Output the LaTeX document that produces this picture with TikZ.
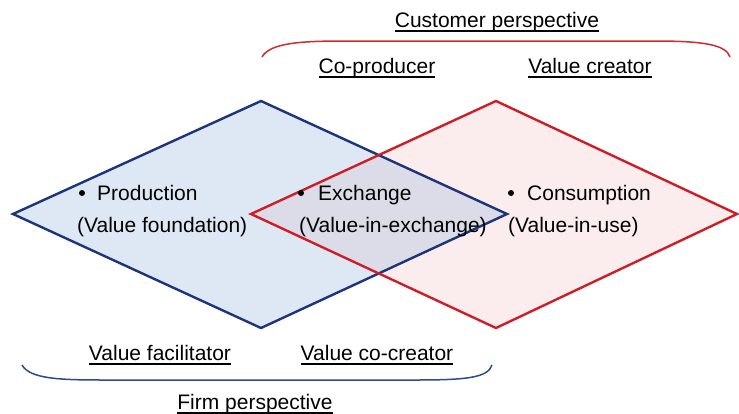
\documentclass[tikz,border=0pt]{standalone}
\usepackage{fontspec}
\setmainfont{Liberation Sans}
\definecolor{bedge}{RGB}{30,52,120}
\definecolor{redge}{RGB}{205,30,40}
\definecolor{bfill}{RGB}{222,232,244}
\definecolor{rfill}{RGB}{251,237,237}
\definecolor{ofill}{RGB}{220,220,232}
\definecolor{rbrace}{RGB}{205,45,45}
\definecolor{bbrace}{RGB}{45,75,135}
\newsavebox\ulbox
\newcommand\ulx[1]{\sbox\ulbox{#1}\rlap{\rule[-4.6pt]{\wd\ulbox}{1.4pt}}\usebox\ulbox}
\begin{document}
\begin{tikzpicture}[x=1pt,y=-1pt,
  txt/.style={inner sep=0pt,font=\fontsize{21}{24}\selectfont},
  bul/.style={circle,fill=black,minimum size=6pt,inner sep=0pt},
  dedge/.style={line width=2.4pt,line join=miter}]
\useasboundingbox (0,0) rectangle (739,413);
% diamond vertices
\coordinate (bl) at (13,214);
\coordinate (bt) at (261,101);
\coordinate (br) at (507,214);
\coordinate (bb) at (261,328);
\coordinate (rl) at (251,214);
\coordinate (rt) at (496,101);
\coordinate (rr) at (737,214);
\coordinate (rb) at (496,328);
% fills
\fill[bfill] (bl) -- (bt) -- (br) -- (bb) -- cycle;
\fill[rfill] (rl) -- (rt) -- (rr) -- (rb) -- cycle;
\begin{scope}
  \clip (bl) -- (bt) -- (br) -- (bb) -- cycle;
  \fill[ofill] (rl) -- (rt) -- (rr) -- (rb) -- cycle;
\end{scope}
% outlines
\draw[dedge,bedge] (bl) -- (bt) -- (br) -- (bb) -- cycle;
\draw[dedge,redge] (rl) -- (rt) -- (rr) -- (rb) -- cycle;
% braces
\coordinate (cA) at (262,57);
\coordinate (cB) at (730,57);
\draw[rbrace,line width=1.5pt] (cA) .. controls (270,43) and (300,41) .. (345,41) -- (655,41) .. controls (705,41) and (726,45) .. (cB);
\coordinate (fA) at (22,365);
\coordinate (fB) at (492,365);
\draw[bbrace,line width=1.5pt] (fA) .. controls (30,379) and (60,380) .. (105,380) -- (415,380) .. controls (465,380) and (488,378) .. (fB);
% top labels
\node[txt,anchor=base] (cust) at (497,27) {\ulx{Customer perspective}};
\node[txt,anchor=base] (coprod) at (377,73) {\ulx{Co-producer}};
\node[txt,anchor=base] (vcreat) at (590,73) {\ulx{Value creator}};
% bottom labels
\node[txt,anchor=base] (vfac) at (160,360) {\ulx{Value facilitator}};
\node[txt,anchor=base] (vcoc) at (377,360) {\ulx{Value co-creator}};
\node[txt,anchor=base] (firm) at (255,409) {\ulx{Firm perspective}};
% diamond texts
\node[bul] (b1) at (82,193) {};
\node[txt,anchor=base west] (prod) at (97,200) {Production};
\node[txt,anchor=base west] (prodv) at (77,232) {(Value foundation)};
\node[bul] (b2) at (301,193) {};
\node[txt,anchor=base west] (exch) at (318,200) {Exchange};
\node[txt,anchor=base west] (exchv) at (299,232) {(Value-in-exchange)};
\node[bul] (b3) at (511,193) {};
\node[txt,anchor=base west] (cons) at (527,200) {Consumption};
\node[txt,anchor=base west] (consv) at (508,232) {(Value-in-use)};
\end{tikzpicture}
\end{document}
